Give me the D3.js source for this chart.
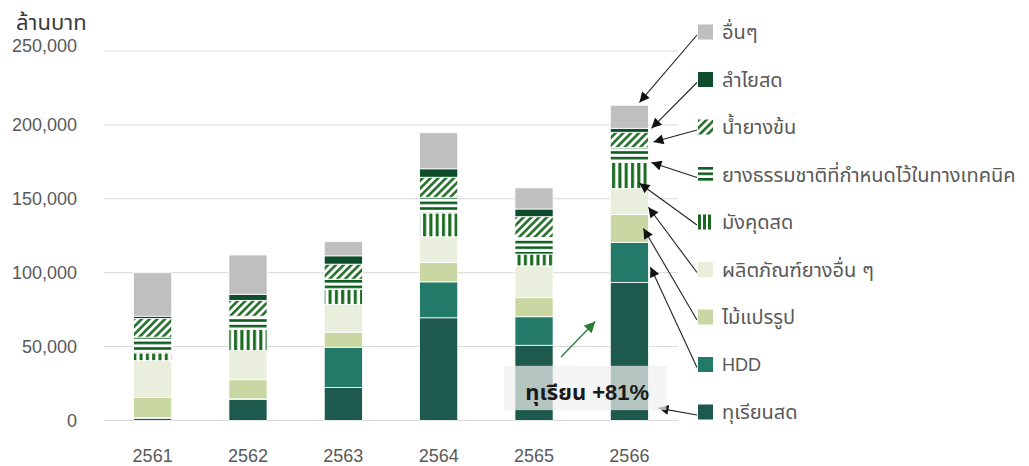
<!DOCTYPE html>
<html>
<head>
<meta charset="utf-8">
<script src="https://cdn.jsdelivr.net/npm/d3@7"></script>
<style>
  html, body { margin: 0; padding: 0; background: #fff; }
  svg { display: block; font-family: "Liberation Sans", Arial, "Noto Sans Thai", "Noto Sans", sans-serif; }
</style>
</head>
<body>
<svg id="chart" width="1029" height="466"></svg>
<script>
// ---------- DATA ----------
const years = ["2561", "2562", "2563", "2564", "2565", "2566"];
const seriesNames = ["ทุเรียนสด", "HDD", "ไม้แปรรูป", "ผลิตภัณฑ์ยางอื่น ๆ", "มังคุดสด",
  "ยางธรรมชาติที่กำหนดไว้ในทางเทคนิค", "น้ำยางข้น", "ลำไยสด", "อื่นๆ"];
const durian        = [1500, 14200, 22400, 69500, 50900, 93300];
const hdd           = [500, 500, 27200, 24300, 19300, 27200];
const wood          = [13600, 12900, 10200, 13100, 12900, 18800];
const otherRubber   = [24900, 19700, 18800, 17400, 21500, 17700];
const mangosteen    = [5200, 14300, 10200, 16100, 8000, 17600];
const naturalRubber = [10700, 9000, 6800, 10600, 11200, 10200];
const latex         = [12600, 10700, 10200, 13600, 14100, 10200];
const longan        = [1600, 4100, 5600, 5700, 5200, 2700];
const others        = [29400, 26600, 9600, 24400, 14300, 15600];
const yTicks = [0, 50000, 100000, 150000, 200000, 250000];
const yUnit = "ล้านบาท";
const noteText = "ทุเรียน +81%";

const seriesValues = [durian, hdd, wood, otherRubber, mangosteen, naturalRubber, latex, longan, others];
const keys = ["durian", "hdd", "wood", "otherRubber", "mangosteen", "naturalRubber", "latex", "longan", "others"];

// ---------- STYLE ----------
const fills = {
  durian: "#1d5a4d", hdd: "#237a69", wood: "#c9d8a2", otherRubber: "#eaeedd",
  mangosteen: "url(#pVert)", naturalRubber: "url(#pHorz)", latex: "url(#pDiag)",
  longan: "#0e4d2b", others: "#bfbfbf"
};
const legendFills = Object.assign({}, fills, {
  mangosteen: "url(#pVertL)", naturalRubber: "url(#pHorzL)"
});
// where each legend arrow points inside its 2566 segment (fraction, x offset from bar right edge)
const arrowFrac = [0.09, 0.39, 0.5, 0.28, 0.2, 0.0, 0.35, 1.0, 1.12];
const arrowDx   = [10, 2, -5, 0, -9, 3, 5, 3, -9];

const data = years.map((y, i) => {
  const o = { year: y };
  keys.forEach((k, j) => o[k] = seriesValues[j][i]);
  return o;
});
const stacked = d3.stack().keys(keys)(data);

const svg = d3.select("#chart");
const defs = svg.append("defs");

const legX = 698, legY0 = 32, legStep = 47.5;

// patterns
const pd = defs.append("pattern").attr("id", "pDiag").attr("patternUnits", "userSpaceOnUse")
  .attr("width", 5.5).attr("height", 5.5).attr("patternTransform", "rotate(45)");
pd.append("rect").attr("width", 5.5).attr("height", 5.5).attr("fill", "#fff");
pd.append("rect").attr("width", 2.6).attr("height", 5.5).attr("fill", "#236e29");

const ph = defs.append("pattern").attr("id", "pHorz").attr("patternUnits", "userSpaceOnUse")
  .attr("width", 6).attr("height", 5.6);
ph.append("rect").attr("width", 6).attr("height", 5.6).attr("fill", "#fff");
ph.append("rect").attr("y", 0).attr("width", 6).attr("height", 2.6).attr("fill", "#0f5e21");

const pv = defs.append("pattern").attr("id", "pVert").attr("patternUnits", "userSpaceOnUse")
  .attr("width", 6.3).attr("height", 6);
pv.append("rect").attr("width", 6.3).attr("height", 6).attr("fill", "#fff");
pv.append("rect").attr("x", 1).attr("width", 3).attr("height", 6).attr("fill", "#176a1e");

// legend versions aligned to the legend swatch
const pvl = defs.append("pattern").attr("id", "pVertL").attr("patternUnits", "userSpaceOnUse")
  .attr("x", legX).attr("width", 5).attr("height", 5);
pvl.append("rect").attr("width", 5).attr("height", 5).attr("fill", "#fff");
pvl.append("rect").attr("width", 3).attr("height", 5).attr("fill", "#176a1e");

const phl = defs.append("pattern").attr("id", "pHorzL").attr("patternUnits", "userSpaceOnUse")
  .attr("y", legY0 + 3 * legStep - 7.5).attr("width", 5).attr("height", 5.5);
phl.append("rect").attr("width", 5).attr("height", 5.5).attr("fill", "#fff");
phl.append("rect").attr("width", 5).attr("height", 2.6).attr("fill", "#0f5e21");

// arrow markers
defs.append("marker").attr("id", "arrBlack").attr("viewBox", "0 0 10 10")
  .attr("refX", 10).attr("refY", 5).attr("markerWidth", 11).attr("markerHeight", 10)
  .attr("markerUnits", "userSpaceOnUse").attr("orient", "auto")
  .append("path").attr("d", "M0,0 L10,5 L0,10 z").attr("fill", "#111");
defs.append("marker").attr("id", "arrGreen").attr("viewBox", "0 0 10 10")
  .attr("refX", 10).attr("refY", 5).attr("markerWidth", 12).attr("markerHeight", 11)
  .attr("markerUnits", "userSpaceOnUse").attr("orient", "auto")
  .append("path").attr("d", "M0,0 L10,5 L0,10 z").attr("fill", "#2b7d36");

// scales
const x = d3.scaleBand().domain(years).range([104, 678]).paddingInner(0.6).paddingOuter(0.31);
const y = d3.scaleLinear().domain([0, 250000]).range([420.5, 51]);

// gridlines
svg.append("g").selectAll("line").data(yTicks).join("line")
  .attr("x1", 104).attr("x2", 678)
  .attr("y1", d => y(d)).attr("y2", d => y(d))
  .attr("stroke", "#d9d9d9").attr("stroke-width", 1);

// y axis labels
const yAxis = d3.axisLeft(y).tickValues(yTicks).tickSize(0).tickPadding(0)
  .tickFormat(d3.format(","));
const gy = svg.append("g").attr("transform", "translate(77,0)").call(yAxis);
gy.select(".domain").remove();
gy.selectAll("text").attr("font-size", 18).attr("fill", "#595959")
  .attr("font-family", "'Liberation Sans', Arial, sans-serif")
  .attr("dy", d => d === 250000 ? "0em" : "0.32em");

// x axis labels
const xAxis = d3.axisBottom(x).tickSize(0).tickPadding(0);
const gx = svg.append("g").attr("transform", "translate(0,449)").call(xAxis);
gx.select(".domain").remove();
gx.selectAll("text").attr("font-size", 18).attr("fill", "#595959")
  .attr("font-family", "'Liberation Sans', Arial, sans-serif");

// unit label
svg.append("text").attr("x", 16).attr("y", 30).attr("font-size", 22).attr("fill", "#3a3a3a")
  .text(yUnit);

// bars
svg.append("g").selectAll("g").data(stacked).join("g")
  .attr("fill", d => fills[d.key])
  .selectAll("rect").data(d => d).join("rect")
  .attr("x", d => x(d.data.year))
  .attr("width", x.bandwidth())
  .attr("y", d => y(d[1]))
  .attr("height", d => Math.max(0, y(d[0]) - y(d[1])))
  .attr("stroke", "#fff").attr("stroke-width", 0.8);

// legend
const legendOrder = keys.map((k, i) => i).reverse();
const lg = svg.append("g");
legendOrder.forEach((si, row) => {
  const cy = legY0 + row * legStep;
  lg.append("rect").attr("x", legX).attr("y", cy - 7.5).attr("width", 15).attr("height", 15)
    .attr("fill", legendFills[keys[si]]);
  const isLatin = /^[A-Za-z]+$/.test(seriesNames[si]);
  lg.append("text").attr("x", legX + 24).attr("y", cy).attr("dy", "0.35em")
    .attr("font-size", isLatin ? 18 : 20).attr("fill", "#595959").text(seriesNames[si]);

  // arrow to 2566 bar segment
  const seg = stacked[si][years.length - 1];
  const tx = x(years[years.length - 1]) + x.bandwidth() + arrowDx[si];
  const ty = y(seg[0] + arrowFrac[si] * (seg[1] - seg[0]));
  lg.append("line").attr("x1", legX - 1).attr("y1", cy + 3).attr("x2", tx).attr("y2", ty)
    .attr("stroke", "#222").attr("stroke-width", 1.1).attr("marker-end", "url(#arrBlack)");
});

// annotation box
const bx0 = x("2565") - 11, bx1 = x("2566") + x.bandwidth() + 18;
svg.append("rect").attr("x", bx0).attr("y", y(37000)).attr("width", bx1 - bx0)
  .attr("height", y(7000) - y(37000)).attr("fill", "#f0f0f0").attr("opacity", 0.72);
svg.append("text").attr("x", (bx0 + bx1) / 2 + 2).attr("y", y(13800))
  .attr("text-anchor", "middle").attr("font-size", 22).attr("font-weight", "bold")
  .attr("fill", "#1a1a1a").text(noteText);

// green growth arrow
svg.append("line")
  .attr("x1", x("2565") + x.bandwidth() + 8).attr("y1", y(43000))
  .attr("x2", x("2566") - 15).attr("y2", y(67000))
  .attr("stroke", "#2b7d36").attr("stroke-width", 1.3).attr("marker-end", "url(#arrGreen)");
</script>
</body>
</html>
